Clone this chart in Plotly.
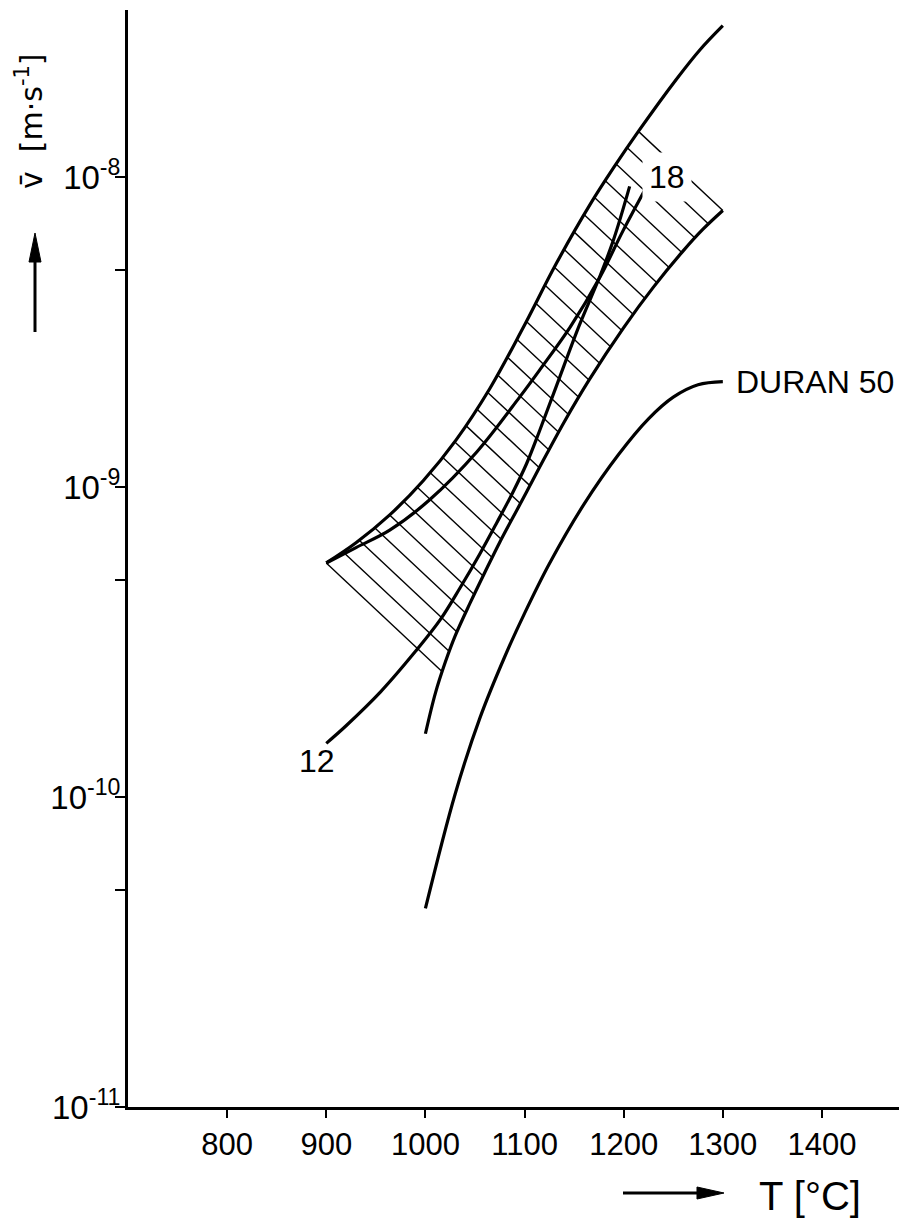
import numpy as np
import plotly.graph_objects as go

# ---------------- data ----------------
# upper boundary of the hatched band
T_UPPER = [900, 930, 964, 998, 1031, 1065, 1098, 1132, 1166, 1190, 1215, 1253, 1277, 1300]
V_UPPER = [5.69e-10, 6.61e-10, 8.13e-10, 1.05e-9, 1.42e-9, 2.08e-9, 3.24e-9, 5.26e-9,
           8.15e-9, 1.074e-8, 1.406e-8, 2.065e-8, 2.576e-8, 3.08e-8]

# lower boundary of the hatched band
T_LOWER = [1000, 1010, 1020, 1030, 1045, 1060, 1075, 1095, 1115, 1140, 1165, 1200, 1230, 1260, 1280, 1300]
V_LOWER = [1.60e-10, 2.16e-10, 2.72e-10, 3.31e-10, 4.22e-10, 5.31e-10, 6.64e-10, 8.75e-10,
           1.156e-9, 1.622e-9, 2.213e-9, 3.27e-9, 4.416e-9, 5.78e-9, 6.79e-9, 7.80e-9]

# curve "12"
T_12 = [900, 920, 955, 990, 1015, 1035, 1055, 1072, 1088, 1102, 1115, 1132, 1155, 1176, 1190, 1206]
V_12 = [1.49e-10, 1.698e-10, 2.188e-10, 2.951e-10, 3.733e-10, 4.732e-10, 6.095e-10, 7.674e-10,
        9.59e-10, 1.189e-9, 1.514e-9, 2.113e-9, 3.311e-9, 4.786e-9, 6.31e-9, 9.33e-9]

# curve "18"
T_18 = [900, 930, 964, 1004, 1052, 1095, 1115, 1146, 1176, 1199, 1225]
V_18 = [5.69e-10, 6.38e-10, 7.26e-10, 9.08e-10, 1.30e-9, 1.95e-9, 2.38e-9, 3.28e-9,
        4.75e-9, 6.68e-9, 9.55e-9]

# DURAN 50
T_DURAN = [1000, 1030, 1055, 1080, 1100, 1125, 1160, 1195, 1225, 1250, 1275, 1300]
V_DURAN = [4.37e-11, 1.023e-10, 1.80e-10, 2.835e-10, 3.912e-10, 5.655e-10, 8.81e-10, 1.276e-9,
           1.66e-9, 1.95e-9, 2.138e-9, 2.188e-9]

X_TICKS = [800, 900, 1000, 1100, 1200, 1300, 1400]
X_TICK_TEXT = ["800", "900", "1000", "1100", "1200", "1300", "1400"]
Y_TICKS = [1e-11, 5e-11, 1e-10, 5e-10, 1e-9, 5e-9, 1e-8]
Y_TICK_TEXT = ["10<sup>-11</sup>", "", "10<sup>-10</sup>", "", "10<sup>-9</sup>", "", "10<sup>-8</sup>"]

LABEL_12 = "12"
LABEL_18 = "18"
LABEL_DURAN = "DURAN 50"
X_TITLE = "T [°C]"
Y_TITLE = "v\u0304  [m·s<sup>-1</sup>]"

# ---------------- style constants ----------------
FONT = "Liberation Sans, Arial, sans-serif"
W, H = 899, 1220
ML, MR, MT, MB = 128, 0, 10, 113
X_RANGE = [700, 1477.7]
Y_RANGE = [-11, -7.461]
CURVE_W = 3.2
HATCH_SLOPE = 0.003      # decades per degC (hatch lines fall to the right)
HATCH_COUNT = 28

PW = W - ML - MR
PH = H - MT - MB


def px_x(px):
    return (px - ML) / PW


def px_y(py):
    return (H - MB - py) / PH


# ---------------- hatching between upper and lower boundary ----------------
tA = np.array(T_UPPER, float)
lA = np.log10(V_UPPER)
tB = np.array(T_LOWER, float)
lB = np.log10(V_LOWER)
gA = lA + HATCH_SLOPE * tA
gB = lB + HATCH_SLOPE * tB
c_left = gA[0]
c_right = gB[-1]
cs = np.linspace(c_left, c_right, HATCH_COUNT)
hx, hy = [], []
for c in cs:
    ta = float(np.interp(c, gA, tA))
    tb = float(np.interp(c, gB, tB))
    hx += [ta, tb, None]
    hy += [10 ** (c - HATCH_SLOPE * ta), 10 ** (c - HATCH_SLOPE * tb), None]

fig = go.Figure()
fig.add_trace(go.Scatter(x=hx, y=hy, mode="lines", line=dict(color="black", width=1.4),
                         hoverinfo="skip", showlegend=False))

for tx, vy in [(T_UPPER, V_UPPER), (T_LOWER, V_LOWER), (T_12, V_12), (T_18, V_18), (T_DURAN, V_DURAN)]:
    fig.add_trace(go.Scatter(x=tx, y=vy, mode="lines",
                             line=dict(color="black", width=CURVE_W, shape="spline", smoothing=1.0),
                             hoverinfo="skip", showlegend=False))

fig.update_layout(
    width=W, height=H,
    margin=dict(l=ML, r=MR, t=MT, b=MB, pad=0),
    paper_bgcolor="white", plot_bgcolor="white",
    showlegend=False,
    xaxis=dict(range=X_RANGE, showline=True, linecolor="black", linewidth=3,
               ticks="outside", ticklen=8, tickwidth=2, tickcolor="black",
               tickvals=X_TICKS, ticktext=X_TICK_TEXT,
               tickfont=dict(family=FONT, size=31, color="black"),
               showgrid=False, zeroline=False, fixedrange=True),
    yaxis=dict(type="log", range=Y_RANGE, showline=True, linecolor="black", linewidth=3,
               ticks="outside", ticklen=10, tickwidth=2, tickcolor="black",
               tickvals=Y_TICKS, ticktext=Y_TICK_TEXT,
               tickfont=dict(family=FONT, size=33, color="black"),
               ticklabelstandoff=-12,
               showgrid=False, zeroline=False, fixedrange=True),
)

ann_font = dict(family=FONT, size=32, color="black")
fig.add_annotation(x=891, y=np.log10(1.31e-10), text=LABEL_12, showarrow=False,
                   xanchor="center", yanchor="middle", font=ann_font)
fig.add_annotation(x=1244, y=np.log10(1.0e-8), text=LABEL_18, showarrow=False,
                   xanchor="center", yanchor="middle", font=ann_font,
                   bgcolor="white", borderpad=6)
fig.add_annotation(x=1311, y=np.log10(V_DURAN[-1]), text=LABEL_DURAN, showarrow=False,
                   xanchor="left", yanchor="middle", font=ann_font)

# axis titles
fig.add_annotation(xref="paper", yref="paper", x=px_x(757), y=px_y(1196), text=X_TITLE,
                   showarrow=False, xanchor="left", yanchor="middle",
                   font=dict(family=FONT, size=40, color="black"))
fig.add_annotation(xref="paper", yref="paper", x=px_x(30), y=px_y(121), text=Y_TITLE,
                   showarrow=False, xanchor="center", yanchor="middle", textangle=-90,
                   font=dict(family="DejaVu Sans, " + FONT, size=30, color="black"))

# arrows next to the titles
fig.add_shape(type="line", xref="paper", yref="paper",
              x0=px_x(623), y0=px_y(1193), x1=px_x(702), y1=px_y(1193),
              line=dict(color="black", width=3))
fig.add_shape(type="path", xref="paper", yref="paper",
              path="M {:.5f},{:.5f} L {:.5f},{:.5f} L {:.5f},{:.5f} Z".format(
                  px_x(724), px_y(1193), px_x(697), px_y(1187), px_x(697), px_y(1199)),
              fillcolor="black", line=dict(color="black", width=1))
fig.add_shape(type="line", xref="paper", yref="paper",
              x0=px_x(35), y0=px_y(332), x1=px_x(35), y1=px_y(256),
              line=dict(color="black", width=3))
fig.add_shape(type="path", xref="paper", yref="paper",
              path="M {:.5f},{:.5f} L {:.5f},{:.5f} L {:.5f},{:.5f} Z".format(
                  px_x(35), px_y(233), px_x(29), px_y(262), px_x(41), px_y(262)),
              fillcolor="black", line=dict(color="black", width=1))

fig.write_html("out.html")
